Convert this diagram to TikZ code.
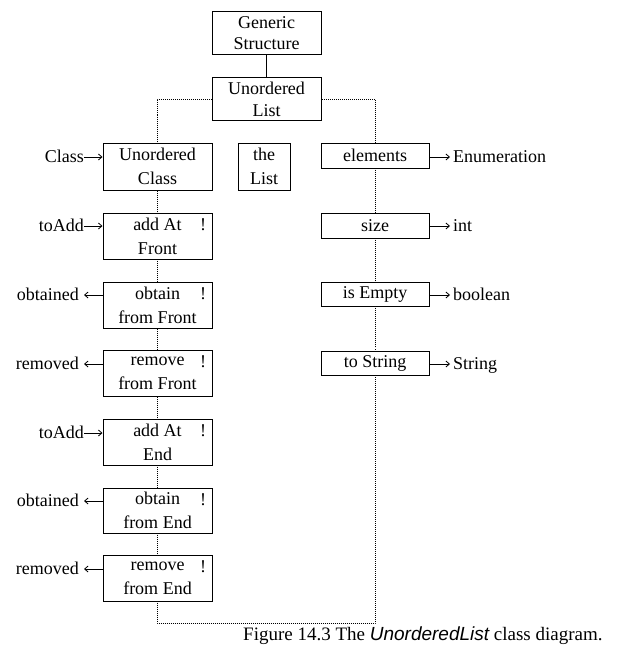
\documentclass[tikz,border=0pt]{standalone}
\usepackage{fontspec}
\setmainfont{Liberation Serif}
\newfontfamily\capsans{Liberation Sans}
\usetikzlibrary{arrows.meta}
\begin{document}
\begin{tikzpicture}[x=1pt,y=-1pt,
  every node/.style={font=\fontsize{18}{24}\selectfont, inner sep=0pt},
  box/.style={draw, line width=1pt, fill=white, align=center, minimum width=109pt, minimum height=46pt},
  rbox/.style={draw, line width=1pt, fill=white, align=center, minimum width=108pt, minimum height=25pt},
  bang/.style={},
  lab/.style={anchor=east, text height=10pt, text depth=0pt},
  rlab/.style={anchor=west, text height=10pt, text depth=0pt},
  arr/.style={line width=0.8pt, -{Straight Barb[length=3.5pt,width=6pt]}},
  dotline/.style={line width=1pt, dash pattern=on 1pt off 1pt}]
\useasboundingbox (0,0) rectangle (620,658);
% corner coordinates of the dotted frame
\coordinate (bl) at (157,623);
\coordinate (br) at (375,623);
\coordinate (ulL) at (157,99.5);
\coordinate (ulR) at (375,99.5);
% dotted frame (behind boxes)
\draw[dotline] (212,99.5) -- (ulL) -- (bl) -- (br) -- (ulR) -- (321,99.5);
% top boxes
\node[box, minimum height=43pt] (gs) at (266.5,33.5) {Generic\\[-3pt]Structure};
\node[box, minimum height=43pt] (ul) at (266.5,99.5) {Unordered\\[-2pt]List};
\draw[line width=1pt] (gs.south) -- (ul.north);
% left column
\node[box, minimum height=47pt] (uc) at (157.5,166.5) {Unordered\\Class};
\node[box, minimum width=52pt, minimum height=47pt] (tl) at (264,166.5) {the\\List};
\node[box] (f1) at (157.5,236) {add At\\Front};
\node[box] (f2) at (157.5,305) {obtain\\from Front};
\node[box] (f3) at (157.5,373) {remove\\from Front};
\node[box] (e1) at (157.5,442) {add At\\End};
\node[box, minimum height=45pt] (e2) at (157.5,510.5) {obtain\\from End};
\node[box] (e3) at (157.5,578) {remove\\from End};
\foreach \b in {f1,f2,f3,e1,e2,e3}{
  \node[bang] (\b x) at ([xshift=45.5pt,yshift=11pt]\b.center) {!};
}
% right column
\node[rbox] (el) at (375,155.5) {elements};
\node[rbox] (sz) at (375,225.5) {size};
\node[rbox, minimum height=24pt] (ie) at (375,294) {is Empty};
\node[rbox, minimum height=24pt] (ts) at (375,363) {to String};
% left labels
\node[lab] (lc) at (84,157) {Class};
\node[lab] (la1) at (84,226) {toAdd};
\node[lab] (lo1) at (79,295) {obtained};
\node[lab] (lr1) at (79,364) {removed};
\node[lab] (la2) at (84,433) {toAdd};
\node[lab] (lo2) at (79,501) {obtained};
\node[lab] (lr2) at (79,569) {removed};
\draw[arr] (lc.east) -- (lc.east -| uc.west);
\draw[arr] (la1.east) -- (la1.east -| f1.west);
\draw[arr] (la2.east) -- (la2.east -| e1.west);
\draw[arr] (lo1.east -| f2.west) -- ([xshift=5pt]lo1.east);
\draw[arr] (lr1.east -| f3.west) -- ([xshift=5pt]lr1.east);
\draw[arr] (lo2.east -| e2.west) -- ([xshift=5pt]lo2.east);
\draw[arr] (lr2.east -| e3.west) -- ([xshift=5pt]lr2.east);
% right labels
\node[rlab] (re1) at (453,157) {Enumeration};
\node[rlab] (re2) at (453,226) {int};
\node[rlab] (re3) at (453,295) {boolean};
\node[rlab] (re4) at (453,364) {String};
\draw[arr] (re1.west -| el.east) -- ([xshift=-3pt]re1.west);
\draw[arr] (re2.west -| sz.east) -- ([xshift=-3pt]re2.west);
\draw[arr] (re3.west -| ie.east) -- ([xshift=-3pt]re3.west);
\draw[arr] (re4.west -| ts.east) -- ([xshift=-3pt]re4.west);
% caption
\node[anchor=base west, font=\fontsize{19}{24}\selectfont] (cap) at (243,640) {Figure 14.3 The {\capsans\itshape UnorderedList} class diagram.};
\end{tikzpicture}
\end{document}
